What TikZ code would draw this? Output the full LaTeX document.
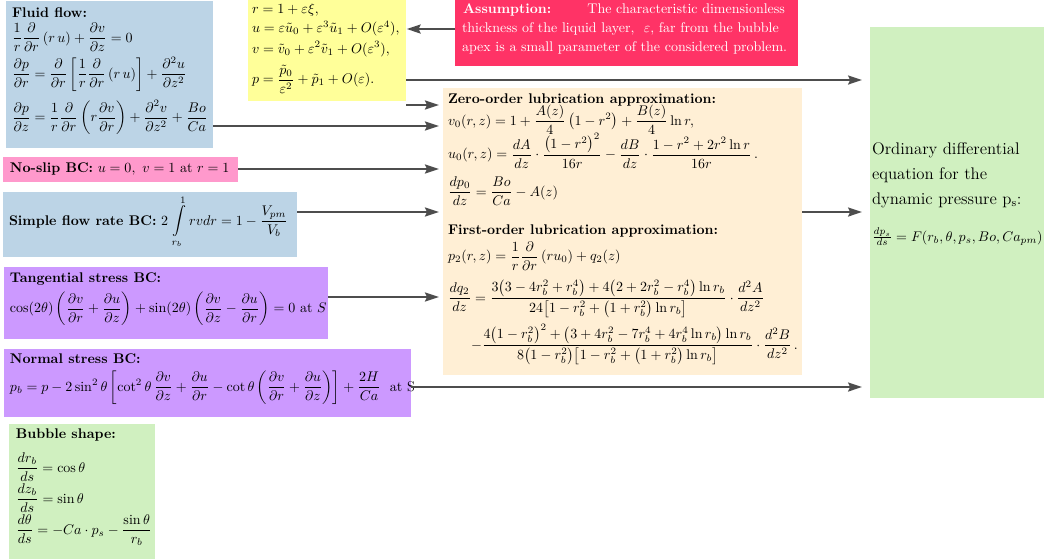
\documentclass[tikz,border=0pt]{standalone}
\usepackage{amsmath}
\usepackage{fontspec}
\usetikzlibrary{fit,arrows.meta}
\definecolor{cblue}{RGB}{188,212,230}
\definecolor{cyellow}{RGB}{255,255,153}
\definecolor{cred}{RGB}{255,51,102}
\definecolor{corange}{RGB}{255,239,213}
\definecolor{cgreen}{RGB}{208,240,192}
\definecolor{cpink}{RGB}{255,153,204}
\definecolor{cpurple}{RGB}{204,153,255}
\definecolor{arrgray}{RGB}{77,77,77}
\tikzset{
  box/.style={inner sep=0pt, outer sep=0pt, draw=none},
  lbl/.style={inner sep=0pt, outer sep=0pt, anchor=base west},
  arr/.style={draw=arrgray, line width=1.4pt, -{Stealth[length=10pt,width=6.5pt,inset=1.5pt]}}
}
\begin{document}
\begin{tikzpicture}[x=0.7143pt,y=-0.7143pt]
\useasboundingbox (0,0) rectangle (1044,558);
\clip (0,0) rectangle (1044,558);

% boxes
\node[box, fill=cblue, fit={(6,1)(213,148)}] (fluid) {};
\node[box, fill=cyellow, fit={(248,-2)(406,101)}] (yellow) {};
\node[box, fill=cred, fit={(455,-2)(798,66)}] (assump) {};
\node[box, fill=corange, fit={(443,88)(802,375)}] (orange) {};
\node[box, fill=cgreen, fit={(870,27)(1050,398)}] (green) {};
\node[box, fill=cpink, fit={(3,157)(238,182)}] (noslip) {};
\node[box, fill=cblue, fit={(3,192)(297,257)}] (simple) {};
\node[box, fill=cpurple, fit={(4,267)(328,339)}] (tang) {};
\node[box, fill=cpurple, fit={(4,349)(411,417)}] (normal) {};
\node[box, fill=cgreen, fit={(9,424)(155,562)}] (bubble) {};

% fluid flow
\node[lbl] (f0) at (12,17) {\textbf{Fluid flow:}};
\node[lbl] (f1) at (12,42) {$\dfrac{1}{r}\dfrac{\partial}{\partial r}\left(r\,u\right)+\dfrac{\partial v}{\partial z}=0$};
\node[lbl] (f2) at (12,78) {$\dfrac{\partial p}{\partial r}=\dfrac{\partial}{\partial r}\left[\dfrac{1}{r}\dfrac{\partial}{\partial r}\left(r\,u\right)\right]+\dfrac{\partial^2 u}{\partial z^2}$};
\node[lbl] (f3) at (12,121.5) {$\dfrac{\partial p}{\partial z}=\dfrac{1}{r}\dfrac{\partial}{\partial r}\left(r\dfrac{\partial v}{\partial r}\right)+\dfrac{\partial^2 v}{\partial z^2}+\dfrac{Bo}{Ca}$};

% yellow
\node[lbl] (y1) at (252,13) {$r=1+\varepsilon\xi,$};
\node[lbl] (y2) at (252,32.5) {$u=\varepsilon\tilde{u}_0+\varepsilon^3\tilde{u}_1+O(\varepsilon^4),$};
\node[lbl] (y3) at (252,53) {$v=\tilde{v}_0+\varepsilon^2\tilde{v}_1+O(\varepsilon^3),$};
\node[lbl] (y4) at (252,83.5) {$p=\dfrac{\tilde{p}_0}{\varepsilon^2}+\tilde{p}_1+O(\varepsilon).$};

% assumption
\node[lbl, text=white, text width=230pt] (a1) at (463,13) {\textbf{Assumption:}\hfill The characteristic dimensionless};
\node[lbl, text=white] (a2) at (462,32) {thickness of the liquid layer,\ \ $\varepsilon$, far from the bubble};
\node[lbl, text=white] (a3) at (462,51) {apex is a small parameter of the considered problem.};

% orange
\node[lbl] (o1) at (448,103) {\textbf{Zero-order lubrication approximation:}};
\node[lbl] (o2) at (448,125) {$v_0(r,z)=1+\dfrac{A(z)}{4}\left(1-r^2\right)+\dfrac{B(z)}{4}\ln r,$};
\node[lbl] (o3) at (448,158.5) {$u_0(r,z)=\dfrac{dA}{dz}\cdot\dfrac{\left(1-r^2\right)^2}{16r}-\dfrac{dB}{dz}\cdot\dfrac{1-r^2+2r^2\ln r}{16r}\,.$};
\node[lbl] (o4) at (448,196) {$\dfrac{dp_0}{dz}=\dfrac{Bo}{Ca}-A(z)$};
\node[lbl] (o5) at (448,234.5) {\textbf{First-order lubrication approximation:}};
\node[lbl] (o6) at (448,260.5) {$p_2(r,z)=\dfrac{1}{r}\dfrac{\partial}{\partial r}\left(ru_0\right)+q_2(z)$};
\node[lbl] (o7) at (448,302) {$\dfrac{dq_2}{dz}=\dfrac{3\bigl(3-4r_b^2+r_b^4\bigr)+4\bigl(2+2r_b^2-r_b^4\bigr)\ln r_b}{24\bigl[1-r_b^2+\bigl(1+r_b^2\bigr)\ln r_b\bigr]}\cdot\dfrac{d^2A}{dz^2}$};
\node[lbl] (o8) at (471,349) {$-\dfrac{4\bigl(1-r_b^2\bigr)^2+\bigl(3+4r_b^2-7r_b^4+4r_b^4\ln r_b\bigr)\ln r_b}{8\bigl(1-r_b^2\bigr)\bigl[1-r_b^2+\bigl(1+r_b^2\bigr)\ln r_b\bigr]}\cdot\dfrac{d^2B}{dz^2}\,.$};

% green right
\node[lbl, font=\large] (g1) at (872,154) {Ordinary differential};
\node[lbl, font=\large] (g2) at (872,179) {equation for the};
\node[lbl, font=\large] (g3) at (872,204) {dynamic pressure p$_\mathrm{s}$:};
\node[lbl] (g4) at (872,241) {$\frac{dp_s}{ds}=F(r_b,\theta,p_s,Bo,Ca_{pm})$};

% no-slip
\node[lbl] (n1) at (10,172.5) {\textbf{No-slip BC:} $u=0,\ v=1$ at $r=1$};

% simple flow rate
\node[lbl] (s1) at (9,225) {\textbf{Simple flow rate BC:} $2\,\displaystyle\int\limits_{r_b}^{1} rvdr=1-\dfrac{V_{pm}}{V_b}$};

% tangential
\node[lbl] (t1) at (10,282) {\textbf{Tangential stress BC:}};
\node[lbl] (t2) at (10,312.5) {$\cos(2\theta)\left(\dfrac{\partial v}{\partial r}+\dfrac{\partial u}{\partial z}\right)+\sin(2\theta)\left(\dfrac{\partial v}{\partial z}-\dfrac{\partial u}{\partial r}\right)=0$ at $S$};

% normal
\node[lbl] (m1) at (10,363) {\textbf{Normal stress BC:}};
\node[lbl] (m2) at (10,391) {$p_b=p-2\sin^2\theta\left[\cot^2\theta\,\dfrac{\partial v}{\partial z}+\dfrac{\partial u}{\partial r}-\cot\theta\left(\dfrac{\partial v}{\partial r}+\dfrac{\partial u}{\partial z}\right)\right]+\dfrac{2H}{Ca}$\ \ at S};

% bubble
\node[lbl] (b1) at (16,438) {\textbf{Bubble shape:}};
\node[lbl] (b2) at (16,472) {$\dfrac{dr_b}{ds}=\cos\theta$};
\node[lbl] (b3) at (16,503) {$\dfrac{dz_b}{ds}=\sin\theta$};
\node[lbl] (b4) at (16,534) {$\dfrac{d\theta}{ds}=-Ca\cdot p_s-\dfrac{\sin\theta}{r_b}$};

% connectors
\draw[arr, shorten >=0.5pt] (assump.west |- 0,29) -- (yellow.east |- 0,29);
\draw[arr, shorten >=5.7pt] (yellow.east |- 0,80) -- (green.west |- 0,80);
\draw[arr, shorten >=2.9pt] (yellow.east |- 0,105) -- (orange.west |- 0,105);
\draw[arr, shorten >=2.9pt] (fluid.east |- 0,126) -- (orange.west |- 0,126);
\draw[arr, shorten >=2.9pt] (noslip.east |- 0,169) -- (orange.west |- 0,169);
\draw[arr, shorten >=2.9pt] (simple.east |- 0,212) -- (orange.west |- 0,212);
\draw[arr, shorten >=2.9pt] (tang.east |- 0,297) -- (orange.west |- 0,297);
\draw[arr, shorten >=5.7pt] (orange.east |- 0,212) -- (green.west |- 0,212);
\draw[arr, shorten >=5.7pt] (normal.east |- 0,387) -- (green.west |- 0,387);
\end{tikzpicture}
\end{document}
